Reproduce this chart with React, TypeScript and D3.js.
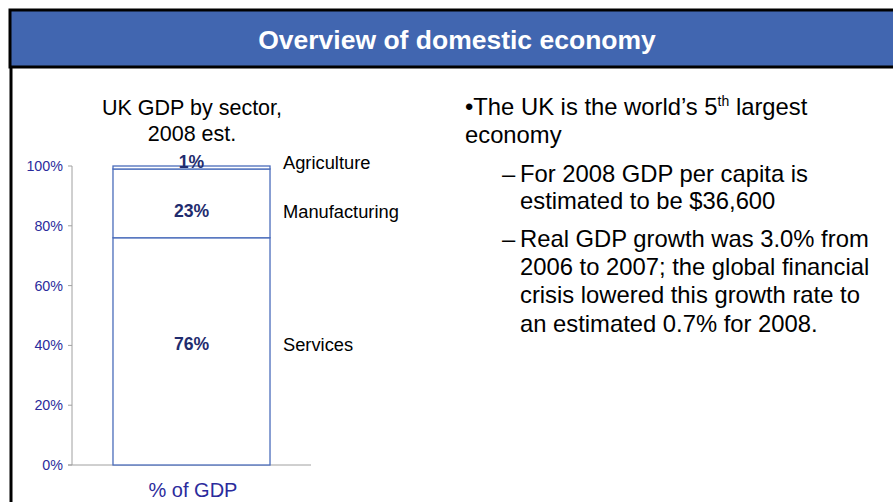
import React from "react";
import * as d3 from "d3";

const categories = ["% of GDP"];
const sectors = ["Services", "Manufacturing", "Agriculture"];
const services = [76];
const manufacturing = [23];
const agriculture = [1];
const yTicks = [0, 20, 40, 60, 80, 100];

const bulletLines = [
  { text: "•The UK is the world’s 5", sup: "th", after: " largest", y: 115 },
  { text: "economy", y: 143 },
];
const subLines = [
  { dash: true, text: "For 2008 GDP per capita is", y: 182 },
  { dash: false, text: "estimated to be $36,600", y: 209 },
  { dash: true, text: "Real GDP growth was 3.0% from", y: 247 },
  { dash: false, text: "2006 to 2007; the global financial", y: 275 },
  { dash: false, text: "crisis lowered this growth rate to", y: 303 },
  { dash: false, text: "an estimated 0.7% for 2008.", y: 332 },
];

export default function App() {
  const W = 893, H = 502;
  const font = "'Liberation Sans', Arial, sans-serif";
  const navy = "#1F2C6E";
  const tickBlue = "#2B2B9C";
  const barStroke = "#4A6CBB";

  const y = d3.scaleLinear().domain([0, 100]).range([465, 166]);
  const x = d3.scaleBand().domain(categories).range([72, 311]).padding(0.207);

  const rows = categories.map((c, i) => ({
    cat: c,
    Services: services[i],
    Manufacturing: manufacturing[i],
    Agriculture: agriculture[i],
  }));
  const stacked = d3.stack<any>().keys(sectors)(rows);
  const labelY: Record<string, number> = { Services: 344, Manufacturing: 211, Agriculture: 162 };
  const labFs = 17.6;
  const catFs = 18.3;
  const bodyFs = 23.8;

  return (
    <svg width={W} height={H} style={{ position: "absolute", left: 0, top: 0 }}>
      <rect x={0} y={0} width={W} height={H} fill="#fff" />
      {/* header */}
      <rect x={10} y={10} width={W} height={57} fill="#4166B0" stroke="#000" strokeWidth={3} />
      <line x1={11} y1={67} x2={11} y2={H} stroke="#000" strokeWidth={3} />
      <text x={457} y={49} textAnchor="middle" fill="#fff" fontFamily={font} fontWeight="bold" fontSize={26.5}>
        Overview of domestic economy
      </text>

      {/* chart title */}
      <text x={192} y={115} textAnchor="middle" fontFamily={font} fontSize={21.5} fill="#000">UK GDP by sector,</text>
      <text x={192} y={141} textAnchor="middle" fontFamily={font} fontSize={21.5} fill="#000">2008 est.</text>

      {/* axis */}
      <line x1={72} y1={y(0)} x2={72} y2={y(100)} stroke="#A0A0A0" strokeWidth={1} />
      <line x1={68} y1={y(0)} x2={311} y2={y(0)} stroke="#A0A0A0" strokeWidth={1} />
      {yTicks.map((t) => (
        <g key={t}>
          <line x1={68} x2={72} y1={y(t)} y2={y(t)} stroke="#A0A0A0" />
          <text x={63} y={y(t) + 5} textAnchor="end" fontFamily={font} fontSize={14.3} fill={tickBlue}>{t}%</text>
        </g>
      ))}

      {/* bars */}
      {stacked.map((s) =>
        s.map((d, i) => (
          <rect
            key={s.key + i}
            x={x(categories[i])!}
            y={y(d[1])}
            width={x.bandwidth()}
            height={y(d[0]) - y(d[1])}
            fill="#fff"
            stroke={barStroke}
            strokeWidth={1.3}
          />
        ))
      )}
      {stacked.map((s) =>
        s.map((d, i) => (
          <g key={"l" + s.key + i}>
            <text x={x(categories[i])! + x.bandwidth() / 2} y={labelY[s.key] + labFs * 0.36} textAnchor="middle" fontFamily={font} fontWeight="bold" fontSize={labFs} fill={navy}>
              {d[1] - d[0]}%
            </text>
            <text x={283} y={labelY[s.key] + catFs * 0.36} fontFamily={font} fontSize={catFs} fill="#000">{s.key}</text>
          </g>
        ))
      )}
      <text x={193} y={497} textAnchor="middle" fontFamily={font} fontSize={20} fill={tickBlue}>% of GDP</text>

      {/* bullet text */}
      {bulletLines.map((l, i) => (
        <text key={i} x={465} y={l.y} fontFamily={font} fontSize={bodyFs} fill="#000">
          {l.text}
          {l.sup ? <tspan dy={-9} fontSize={14}>{l.sup}</tspan> : null}
          {l.after ? <tspan dy={9}>{l.after}</tspan> : null}
        </text>
      ))}
      {subLines.map((l, i) => (
        <g key={i}>
          {l.dash ? <text x={502} y={l.y} fontFamily={font} fontSize={bodyFs} fill="#000">–</text> : null}
          <text x={520} y={l.y} fontFamily={font} fontSize={bodyFs} fill="#000">{l.text}</text>
        </g>
      ))}
    </svg>
  );
}
